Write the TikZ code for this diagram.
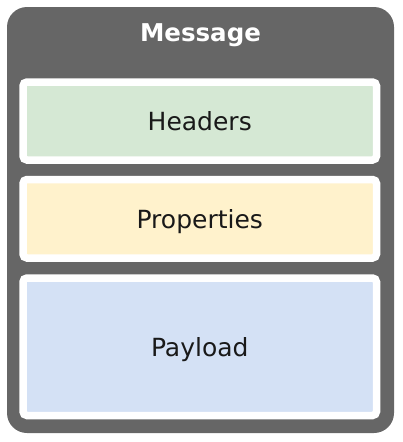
\documentclass[tikz,border=0pt]{standalone}
\usepackage{fontspec}
\setmainfont{DejaVu Sans}
\usepackage{tikz}
\usetikzlibrary{positioning}
\definecolor{msggray}{HTML}{666666}
\definecolor{hdrgreen}{HTML}{D5E8D4}
\definecolor{propyellow}{HTML}{FFF2CC}
\definecolor{loadblue}{HTML}{D4E1F5}
\tikzset{
  part/.style={draw=white, line width=7.5pt, rounded corners=4pt, inner sep=0pt,
    minimum width=353.5pt, text=black!90, font=\fontsize{25}{29}\selectfont,
    text depth=-6pt},
}

\begin{document}
\begin{tikzpicture}[x=1pt, y=-1pt]
  \useasboundingbox (0,0) rectangle (402,442);
  % outer envelope
  \node[fill=msggray, rounded corners=20pt, minimum width=387pt, minimum height=426pt, inner sep=0pt] (msg) at (200.5,220) {};
  \node[text=white, font=\bfseries\fontsize{24.5}{28}\selectfont] (title) at (200.5,35.5) {Message};
  % parts of the message
  \node[part, fill=hdrgreen, minimum height=78pt] (hdr) at (199.75,121) {Headers};
  \node[part, fill=propyellow, minimum height=78.5pt] (prop) at (199.75,218.75) {Properties};
  \node[part, fill=loadblue, minimum height=137.5pt] (load) at (199.75,346.75) {Payload};
\end{tikzpicture}
\end{document}
